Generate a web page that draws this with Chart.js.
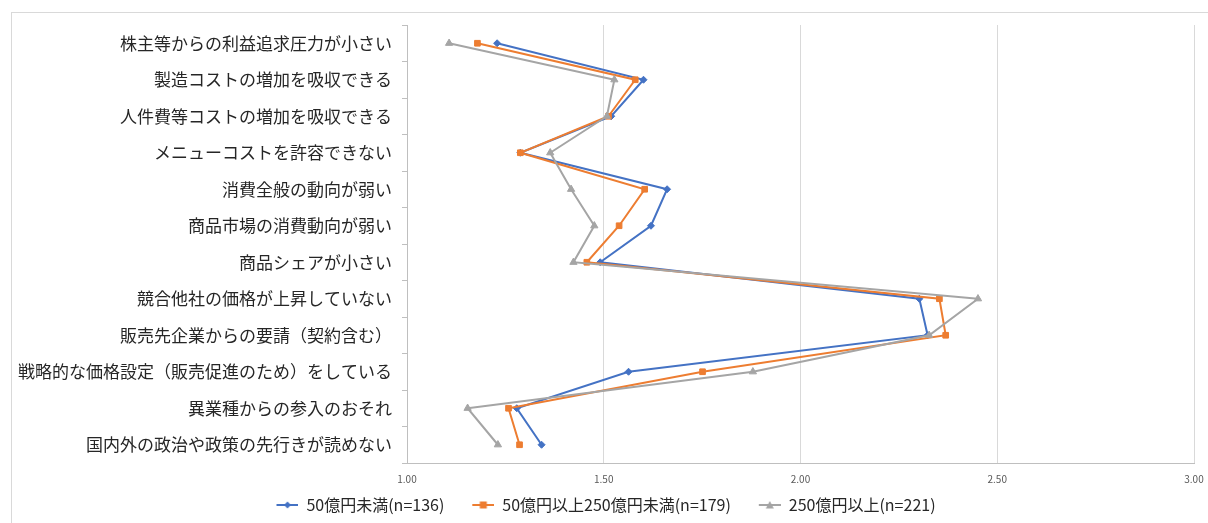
<!DOCTYPE html>
<html lang="ja">
<head>
<meta charset="utf-8">
<script src="https://cdn.jsdelivr.net/npm/chart.js@4/dist/chart.umd.min.js"></script>
<style>
  html, body { margin: 0; padding: 0; background: #fff; }
  #wrap { position: relative; width: 1208px; height: 523px; overflow: hidden; }
  #frame { position: absolute; left: 11px; top: 12px; right: -2px; bottom: -2px;
           border-left: 1px solid #d9d9d9; border-top: 1px solid #d9d9d9; }
  #chart { position: absolute; left: 0; top: 0; }
</style>
</head>
<body>
<div id="wrap">
  <div id="frame"></div>
  <canvas id="chart" width="1208" height="523"></canvas>
</div>
<script>
const categories = [
  '株主等からの利益追求圧力が小さい',
  '製造コストの増加を吸収できる',
  '人件費等コストの増加を吸収できる',
  'メニューコストを許容できない',
  '消費全般の動向が弱い',
  '商品市場の消費動向が弱い',
  '商品シェアが小さい',
  '競合他社の価格が上昇していない',
  '販売先企業からの要請（契約含む）',
  '戦略的な価格設定（販売促進のため）をしている',
  '異業種からの参入のおそれ',
  '国内外の政治や政策の先行きが読めない'
];

const seriesNames = ['50億円未満(n=136)', '50億円以上250億円未満(n=179)', '250億円以上(n=221)'];

const under50 = [1.229, 1.601, 1.519, 1.288, 1.661, 1.620, 1.491, 2.302, 2.323, 1.563, 1.279, 1.342];
const from50to250 = [1.179, 1.580, 1.512, 1.288, 1.604, 1.539, 1.457, 2.353, 2.369, 1.751, 1.258, 1.286];
const over250 = [1.107, 1.527, 1.508, 1.364, 1.417, 1.476, 1.423, 2.451, 2.327, 1.879, 1.154, 1.231];

const xTicks = [1.0, 1.5, 2.0, 2.5, 3.0];

const colors = ['#4472c4', '#ed7d31', '#a5a5a5'];
const markers = ['rectRot', 'rect', 'triangle'];
const markerSize = [3.5, 4, 4.2];
const FONT = '"Noto Sans CJK JP", "Noto Sans", sans-serif';

// legend swatch: line with the marker on it, blank space on the left
// acts as the gap to the previous entry
const GAP = 18;
function swatch(color, style) {
  const c = document.createElement('canvas');
  c.width = GAP + 22; c.height = 10;
  const g = c.getContext('2d');
  g.translate(GAP, 0);
  g.strokeStyle = color;
  g.fillStyle = color;
  g.lineWidth = 2;
  g.beginPath(); g.moveTo(0, 5); g.lineTo(22, 5); g.stroke();
  g.beginPath();
  if (style === 'rectRot') {
    g.moveTo(11, 1.5); g.lineTo(14.5, 5); g.lineTo(11, 8.5); g.lineTo(7.5, 5);
  } else if (style === 'rect') {
    g.rect(7.5, 1.5, 7, 7);
  } else {
    g.moveTo(11, 1); g.lineTo(15, 8.5); g.lineTo(7, 8.5);
  }
  g.closePath(); g.fill();
  return c;
}

const values = [under50, from50to250, over250];
const datasets = values.map((v, i) => ({
  label: seriesNames[i],
  data: v,
  borderColor: colors[i],
  backgroundColor: colors[i],
  borderWidth: 2,
  pointStyle: markers[i],
  pointRadius: markerSize[i],
  pointBorderWidth: 1,
  tension: 0,
  order: 2 - i
}));

new Chart(document.getElementById('chart'), {
  type: 'line',
  data: { labels: categories, datasets: datasets },
  options: {
    responsive: false,
    animation: false,
    indexAxis: 'y',
    layout: { padding: { top: 25, right: 14, left: 0, bottom: 0 } },
    scales: {
      x: {
        type: 'linear',
        min: 1,
        max: 3,
        afterBuildTicks: (scale) => { scale.ticks = xTicks.map(v => ({ value: v })); },
        afterFit: (scale) => {
          scale.height = 24;
          scale.paddingRight = 0;
        },
        ticks: {
          callback: (v) => Number(v).toFixed(2),
          color: '#595959',
          font: { family: FONT, size: 10 },
          padding: 10
        },
        grid: { color: '#d9d9d9', lineWidth: 1, drawTicks: false },
        border: { color: '#bfbfbf' }
      },
      y: {
        type: 'category',
        offset: true,
        afterFit: (scale) => { scale.width = 407; },
        ticks: {
          autoSkip: false,
          color: '#262626',
          font: { family: FONT, size: 17 },
          padding: 10
        },
        grid: { offset: true, drawOnChartArea: false, tickLength: 5, color: '#bfbfbf' },
        border: { color: '#bfbfbf' }
      }
    },
    plugins: {
      legend: {
        position: 'bottom',
        labels: {
          usePointStyle: true,
          pointStyleWidth: GAP + 22,
          padding: 10,
          color: '#262626',
          font: { family: FONT, size: 16 },
          generateLabels: (chart) => chart.data.datasets.map((ds, i) => ({
            text: ds.label,
            pointStyle: swatch(colors[i], markers[i]),
            fillStyle: colors[i],
            strokeStyle: colors[i],
            lineWidth: 0,
            fontColor: '#262626',
            hidden: false,
            datasetIndex: i
          }))
        }
      },
      tooltip: { enabled: false }
    }
  }
});
</script>
</body>
</html>
